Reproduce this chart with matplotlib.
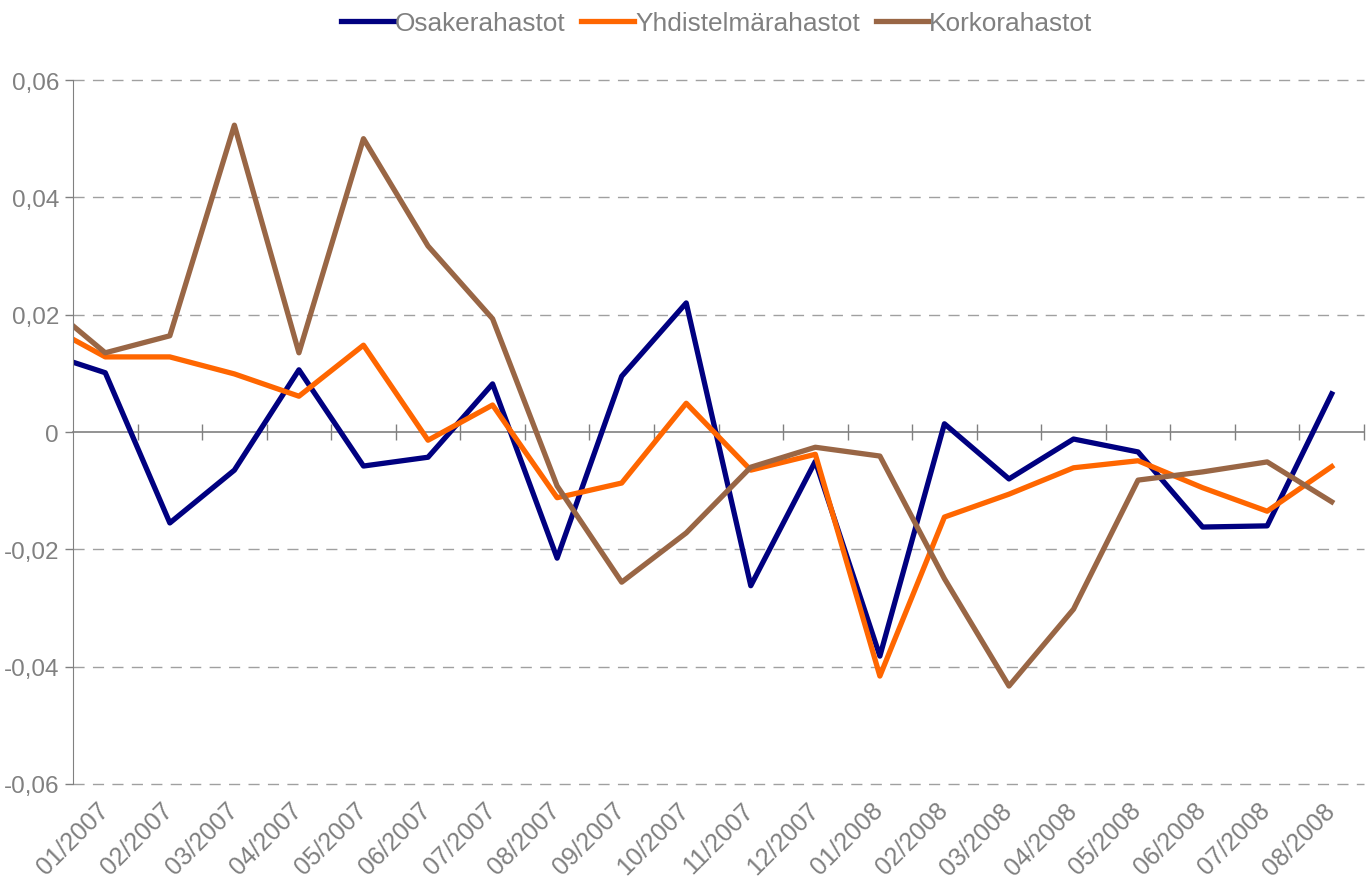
import numpy as np
from matplotlib import pyplot as plt
from matplotlib.transforms import ScaledTranslation

plt.rcParams['font.family'] = ['Liberation Sans', 'DejaVu Sans']

# month labels (category axis)
months = ['01/2007', '02/2007', '03/2007', '04/2007', '05/2007', '06/2007', '07/2007',
          '08/2007', '09/2007', '10/2007', '11/2007', '12/2007', '01/2008', '02/2008',
          '03/2008', '04/2008', '05/2008', '06/2008', '07/2008', '08/2008']

# first value sits on the left edge of the axis, the rest at the month centres
osake = [0.0119, 0.0101, -0.0155, -0.0065, 0.0106, -0.0058, -0.0043, 0.0082, -0.0215, 0.0095,
         0.0220, -0.0262, -0.0050, -0.0382, 0.0014, -0.0080, -0.0012, -0.0034, -0.0162, -0.0160,
         0.0065]
yhdistelma = [0.0158, 0.0128, 0.0128, 0.0099, 0.0061, 0.0148, -0.0014, 0.0046, -0.0112, -0.0087,
              0.0049, -0.0065, -0.0038, -0.0416, -0.0145, -0.0106, -0.0061, -0.0049, -0.0095,
              -0.0135, -0.0059]
korko = [0.0181, 0.0135, 0.0164, 0.0523, 0.0135, 0.0500, 0.0317, 0.0193, -0.0092, -0.0256,
         -0.0172, -0.0060, -0.0026, -0.0041, -0.0250, -0.0433, -0.0302, -0.0082, -0.0068,
         -0.0051, -0.0119]

centres = np.arange(len(months)) + 0.5
x = np.concatenate([[0], centres])

grey = '#808080'

fig = plt.figure(figsize=(13.68, 8.79), dpi=100)
ax = fig.add_axes([73 / 1368, 1 - 785 / 879, (1364 - 73) / 1368, (785 - 81) / 879])

ax.plot(x, osake, color='#000080', lw=3.8, label='Osakerahastot')
ax.plot(x, yhdistelma, color='#FF6600', lw=3.8, label='Yhdistelmärahastot')
ax.plot(x, korko, color='#996645', lw=3.8, label='Korkorahastot')

ax.set_xlim(0, len(months))
ax.set_ylim(-0.06, 0.06)

yt = [-0.06, -0.04, -0.02, 0, 0.02, 0.04, 0.06]
ax.set_yticks(yt)
ax.set_yticklabels(['0' if v == 0 else f'{v:.2f}'.replace('.', ',') for v in yt])
for v in yt:
    if v != 0:
        ax.axhline(v, color='#A0A0A0', lw=1, dashes=(8, 6), zorder=0, clip_on=False)

ax.set_xticks(centres)
ax.set_xticklabels(months, rotation=45, ha='right', va='top', rotation_mode='anchor')
ax.tick_params(axis='x', length=0, pad=10, labelsize=18, labelcolor=grey)
ax.tick_params(axis='y', length=6, width=1, color=grey, labelsize=17.5, labelcolor=grey, pad=4)
shift = ScaledTranslation(-0.09, 0, fig.dpi_scale_trans)
for lab in ax.get_xticklabels():
    lab.set_transform(lab.get_transform() + shift)

for s in ['top', 'right', 'bottom']:
    ax.spines[s].set_visible(False)
ax.spines['left'].set_color(grey)

# zero line with category boundary ticks
sec = ax.secondary_xaxis(0.5)
sec.set_xticks(np.arange(1, len(months) + 1))
sec.set_xticklabels([])
sec.tick_params(axis='x', direction='inout', length=12, width=1, color=grey,
                labelbottom=False, labeltop=False)
for sp in sec.spines.values():
    sp.set_color(grey)
    sp.set_linewidth(1.2)

fig.legend(loc='upper center', bbox_to_anchor=(0.524, 1.013), ncol=3, frameon=False,
           fontsize=18.9, labelcolor=grey, handlelength=2.0, handletextpad=0.05, columnspacing=0.6)

fig.savefig('out.png', dpi=100)
